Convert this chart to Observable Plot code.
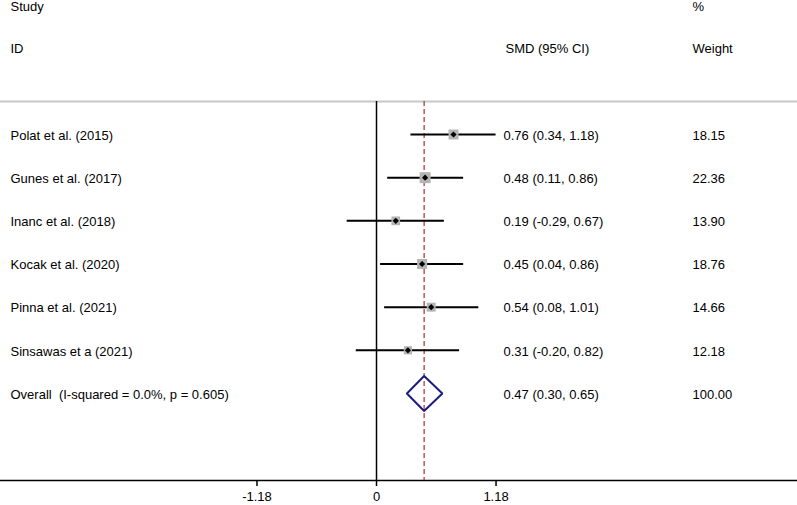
<!DOCTYPE html>
<html>
<head>
<meta charset="utf-8">
<script src="https://cdn.jsdelivr.net/npm/d3@7"></script>
<script src="https://cdn.jsdelivr.net/npm/@observablehq/plot@0.6"></script>
<style>
  html, body { margin: 0; padding: 0; background: #fff; }
  svg text { white-space: pre; }
</style>
</head>
<body>
<div id="chart"></div>
<script>
// ---- data ----
const studies = ["Polat et al. (2015)", "Gunes et al. (2017)", "Inanc et al. (2018)",
                 "Kocak et al. (2020)", "Pinna et al. (2021)", "Sinsawas et a (2021)"];
const smd     = [0.76, 0.48, 0.19, 0.45, 0.54, 0.31];
const lower   = [0.34, 0.11, -0.29, 0.04, 0.08, -0.20];
const upper   = [1.18, 0.86, 0.67, 0.86, 1.01, 0.82];
const weights = [18.15, 22.36, 13.90, 18.76, 14.66, 12.18];
const overallLabel = "Overall  (I-squared = 0.0%, p = 0.605)";
const overallSmd = 0.47, overallLower = 0.30, overallUpper = 0.65, overallWeight = 100.00;
const xTicks = [-1.18, 0, 1.18];
const headerTop = ["Study", "%"];
const headerBottom = ["ID", "SMD (95% CI)", "Weight"];

// ---- layout helpers ----
const fmt = v => v.toFixed(2);
const rows = studies.map((s, i) => ({
  row: i + 1, study: s, est: smd[i], lo: lower[i], hi: upper[i], w: weights[i],
  ci: `${fmt(smd[i])} (${fmt(lower[i])}, ${fmt(upper[i])})`, wt: fmt(weights[i])
}));
const overallRow = studies.length + 1;
const overall = {row: overallRow, study: overallLabel, est: overallSmd, lo: overallLower, hi: overallUpper,
  ci: `${fmt(overallSmd)} (${fmt(overallLower)}, ${fmt(overallUpper)})`, wt: fmt(overallWeight)};
const textRows = [...rows, overall];
const yDomain = [-2.104, 9.015];
const sepRow = 0.236;
const dh = 0.405;
const diamond = [
  {x: overall.lo, y: overallRow}, {x: overall.est, y: overallRow - dh},
  {x: overall.hi, y: overallRow}, {x: overall.est, y: overallRow + dh},
  {x: overall.lo, y: overallRow}
];
const red = "#b83a3a", navy = "#1c1c7e";

const chart = Plot.plot({
  width: 797, height: 505,
  marginLeft: 0, marginRight: 0, marginTop: 0, marginBottom: 25,
  style: {fontFamily: "'Liberation Sans', Arial, Helvetica, sans-serif", fontSize: "13px", color: "#000", background: "#fff", overflow: "visible"},
  x: {domain: [-3.712, 4.156], label: null},
  y: {domain: yDomain, reverse: true, axis: null},
  r: {type: "sqrt", domain: [0, 100], range: [0, 13.15]},
  marks: [
    Plot.ruleY([sepRow], {stroke: "#c8c8c8", strokeWidth: 2}),
    Plot.ruleY([yDomain[1]], {stroke: "#000", strokeWidth: 1.5}),
    Plot.ruleX([0], {y1: sepRow, y2: yDomain[1], stroke: "#000", strokeWidth: 1.5}),
    Plot.ruleX([overallSmd], {y1: sepRow, y2: yDomain[1], stroke: red, strokeWidth: 1.3, strokeDasharray: "5,3"}),
    Plot.ruleY(rows, {y: "row", x1: "lo", x2: "hi", stroke: "#000", strokeWidth: 2}),
    Plot.dot(rows, {x: "est", y: "row", r: "w", symbol: "square", fill: "#b4b4b4", stroke: "none"}),
    Plot.dot(rows, {x: "est", y: "row", r: 2.8, symbol: "diamond2", fill: "#000", stroke: "none"}),
    Plot.line(diamond, {x: "x", y: "y", stroke: navy, strokeWidth: 2, strokeLinejoin: "miter"}),
    // row text columns
    Plot.text(textRows, {y: "row", text: "study", frameAnchor: "left", dx: 10, textAnchor: "start", dy: 1, fill: "#000"}),
    Plot.text(textRows, {y: "row", text: "ci", frameAnchor: "left", dx: 503, textAnchor: "start", dy: 1, fill: "#000"}),
    Plot.text(textRows, {y: "row", text: "wt", frameAnchor: "left", dx: 692, textAnchor: "start", dy: 1, fill: "#000"}),
    // headers
    Plot.text([headerTop[0]], {frameAnchor: "top-left", dx: 10, dy: 6.5, lineAnchor: "middle", textAnchor: "start", fill: "#000"}),
    Plot.text([headerTop[1]], {frameAnchor: "top-left", dx: 692, dy: 6.5, lineAnchor: "middle", textAnchor: "start", fill: "#000"}),
    Plot.text([headerBottom[0]], {frameAnchor: "top-left", dx: 10, dy: 48, lineAnchor: "middle", textAnchor: "start", fill: "#000"}),
    Plot.text([headerBottom[1]], {frameAnchor: "top-left", dx: 505, dy: 48, lineAnchor: "middle", textAnchor: "start", fill: "#000"}),
    Plot.text([headerBottom[2]], {frameAnchor: "top-left", dx: 692, dy: 48, lineAnchor: "middle", textAnchor: "start", fill: "#000"}),
    Plot.axisX({ticks: xTicks, tickSize: 6, tickPadding: 5, strokeWidth: 1.5, tickFormat: d => String(d), label: null, fontSize: 13})
  ]
});
document.getElementById("chart").appendChild(chart);
</script>
</body>
</html>
